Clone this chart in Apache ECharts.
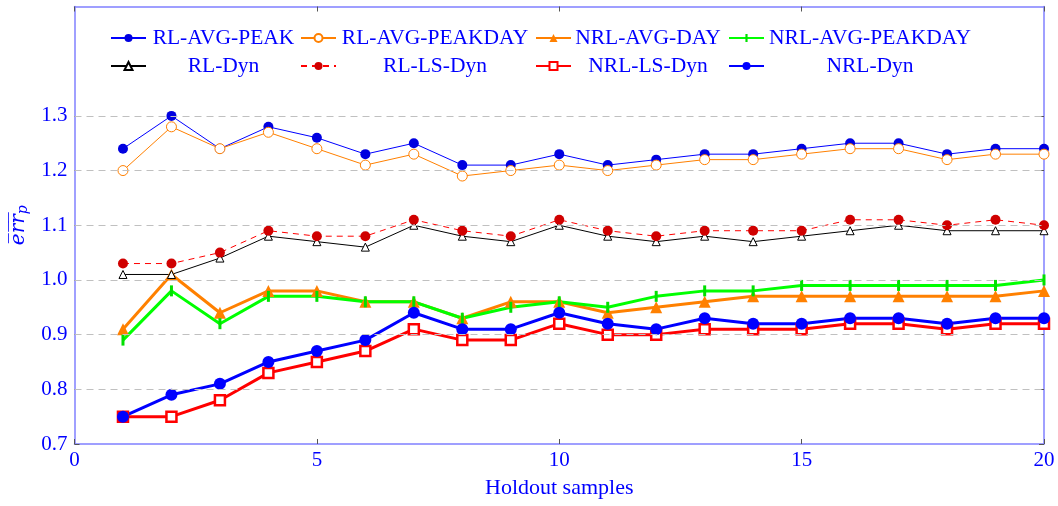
<!DOCTYPE html>
<html>
<head>
<meta charset="utf-8">
<script src="https://cdn.jsdelivr.net/npm/echarts@6/dist/echarts.min.js"></script>
<style>
html,body{margin:0;padding:0;background:#fff;}
#chart{width:1058px;height:506px;}
</style>
</head>
<body>
<div id="chart"></div>
<script>
const xValues = [1,2,3,4,5,6,7,8,9,10,11,12,13,14,15,16,17,18,19,20];
const rlAvgPeak     = [1.24,1.30,1.24,1.28,1.26,1.23,1.25,1.21,1.21,1.23,1.21,1.22,1.23,1.23,1.24,1.25,1.25,1.23,1.24,1.24];
const rlAvgPeakDay  = [1.20,1.28,1.24,1.27,1.24,1.21,1.23,1.19,1.20,1.21,1.20,1.21,1.22,1.22,1.23,1.24,1.24,1.22,1.23,1.23];
const nrlAvgDay     = [0.91,1.01,0.94,0.98,0.98,0.96,0.96,0.93,0.96,0.96,0.94,0.95,0.96,0.97,0.97,0.97,0.97,0.97,0.97,0.98];
const nrlAvgPeakDay = [0.89,0.98,0.92,0.97,0.97,0.96,0.96,0.93,0.95,0.96,0.95,0.97,0.98,0.98,0.99,0.99,0.99,0.99,0.99,1.00];
const rlDyn         = [1.01,1.01,1.04,1.08,1.07,1.06,1.10,1.08,1.07,1.10,1.08,1.07,1.08,1.07,1.08,1.09,1.10,1.09,1.09,1.09];
const rlLsDyn       = [1.03,1.03,1.05,1.09,1.08,1.08,1.11,1.09,1.08,1.11,1.09,1.08,1.09,1.09,1.09,1.11,1.11,1.10,1.11,1.10];
const nrlLsDyn      = [0.75,0.75,0.78,0.83,0.85,0.87,0.91,0.89,0.89,0.92,0.90,0.90,0.91,0.91,0.91,0.92,0.92,0.91,0.92,0.92];
const nrlDyn        = [0.75,0.79,0.81,0.85,0.87,0.89,0.94,0.91,0.91,0.94,0.92,0.91,0.93,0.92,0.92,0.93,0.93,0.92,0.93,0.93];
const yTicks = [0.7,0.8,0.9,1.0,1.1,1.2,1.3];
const gridValues = [0.8,0.9,1.0,1.1,1.2,1.3];
const xTicks = [0,5,10,15,20];
const xTitle = 'Holdout samples';

const FONT = 'Liberation Serif';
const BLUE = '#0000ff';
const AXIS = '#8080ff';
const pts = arr => xValues.map((x,i)=>[x, arr[i]]);

const legendCols = [
  {left:110, w:145, names:['RL-AVG-PEAK','RL-Dyn']},
  {left:300, w:188, names:['RL-AVG-PEAKDAY','RL-LS-Dyn']},
  {left:535, w:144, names:['NRL-AVG-DAY','NRL-LS-Dyn']},
  {left:728, w:202, names:['NRL-AVG-PEAKDAY','NRL-Dyn']}
];

const chart = echarts.init(document.getElementById('chart'));
chart.setOption({
  animation:false,
  backgroundColor:'#fff',
  grid:{left:74.5, right:14, top:6.5, bottom:62},
  legend: legendCols.map(c=>({
    orient:'vertical', left:c.left, top:27, padding:0,
    itemWidth:35, itemHeight:10, itemGap:6,
    data:c.names,
    formatter: n => '{t|' + n + '}',
    textStyle:{rich:{t:{width:c.w, align:'center', fontFamily:FONT, fontSize:21.5, color:BLUE, lineHeight:20}}}
  })),
  xAxis:[{
    type:'value', min:0, max:20, interval:5,
    name:xTitle, nameLocation:'middle', nameGap:33,
    nameTextStyle:{fontFamily:FONT, fontSize:22, color:BLUE},
    axisLine:{onZero:false, lineStyle:{color:AXIS, width:1.5}},
    axisTick:{inside:true, length:5, lineStyle:{color:'#555'}},
    axisLabel:{fontFamily:FONT, fontSize:21, color:BLUE, margin:6},
    splitLine:{show:false}
  },{
    type:'value', min:0, max:20, interval:5, position:'top',
    axisLine:{show:true, onZero:false, lineStyle:{color:AXIS, width:1.5}},
    axisTick:{inside:true, length:5, lineStyle:{color:'#555'}},
    axisLabel:{show:false}, splitLine:{show:false}
  }],
  yAxis:[{
    type:'value', min:0.7, max:1.5, interval:0.1,
    name:'{a|e\u0305r\u0305r\u0305}{b|p}', nameLocation:'middle', nameGap:44, nameRotate:90,
    nameTextStyle:{rich:{
      a:{fontFamily:'DejaVu Serif', fontStyle:'italic', fontSize:20, color:BLUE},
      b:{fontFamily:'DejaVu Serif', fontStyle:'italic', fontSize:14, color:BLUE, padding:[10,0,0,0]}
    }},
    axisLine:{show:true, onZero:false, lineStyle:{color:AXIS, width:1.5}},
    axisTick:{show:true, inside:true, length:5, lineStyle:{color:'#555'}, customValues:yTicks},
    axisLabel:{fontFamily:FONT, fontSize:21, color:BLUE, margin:7, customValues:yTicks,
      formatter:v => v > 1.35 ? '' : v.toFixed(1)},
    splitLine:{show:false}
  },{
    type:'value', min:0.7, max:1.5, interval:0.1, position:'right',
    axisLine:{show:true, onZero:false, lineStyle:{color:AXIS, width:1.5}},
    axisTick:{show:true, inside:true, length:5, lineStyle:{color:'#555'}, customValues:yTicks},
    axisLabel:{show:false}, splitLine:{show:false}
  }],
  series:[
    {type:'line', name:'grid', data:[], z:1, silent:true,
     markLine:{silent:true, symbol:'none', label:{show:false}, animation:false,
       lineStyle:{color:'#c0c0c0', width:1, type:[7,5]},
       data:gridValues.map(v=>({yAxis:v}))}},
    {type:'line', name:'RL-AVG-PEAK', data:pts(rlAvgPeak), z:3,
     lineStyle:{color:'#0000ff', width:1}, symbol:'circle', symbolSize:10,
     itemStyle:{color:'#0000e0', borderWidth:0}},
    {type:'line', name:'RL-AVG-PEAKDAY', data:pts(rlAvgPeakDay), z:3,
     lineStyle:{color:'#ff8000', width:1}, symbol:'circle', symbolSize:10,
     itemStyle:{color:'#ffffff', borderColor:'#ff8000', borderWidth:1}},
    {type:'line', name:'NRL-AVG-DAY', data:pts(nrlAvgDay), z:3,
     lineStyle:{color:'#ff8000', width:3}, symbol:'triangle', symbolSize:12,
     itemStyle:{color:'#ff8000', borderWidth:0}},
    {type:'line', name:'NRL-AVG-PEAKDAY', data:pts(nrlAvgPeakDay), z:3,
     lineStyle:{color:'#00ff00', width:3}, symbol:'path://M4 0H7V11H4Z M0 0 M11 11', symbolSize:11,
     itemStyle:{color:'#00e000', borderWidth:0}},
    {type:'line', name:'RL-Dyn', data:pts(rlDyn), z:3,
     lineStyle:{color:'#000000', width:1}, symbol:'triangle', symbolSize:8,
     itemStyle:{color:'#ffffff', borderColor:'#000000', borderWidth:1}},
    {type:'line', name:'RL-LS-Dyn', data:pts(rlLsDyn), z:3,
     lineStyle:{color:'#ff0000', width:1, type:[6,5]}, symbol:'circle', symbolSize:10,
     itemStyle:{color:'#d00000', borderWidth:0}},
    {type:'line', name:'NRL-LS-Dyn', data:pts(nrlLsDyn), z:3,
     lineStyle:{color:'#ff0000', width:3}, symbol:'rect', symbolSize:10,
     itemStyle:{color:'#ffffff', borderColor:'#ff0000', borderWidth:2.5}},
    {type:'line', name:'NRL-Dyn', data:pts(nrlDyn), z:3,
     lineStyle:{color:'#0000ff', width:3}, symbol:'circle', symbolSize:12,
     itemStyle:{color:'#0000ff', borderWidth:0}}
  ]
});
</script>
</body>
</html>
